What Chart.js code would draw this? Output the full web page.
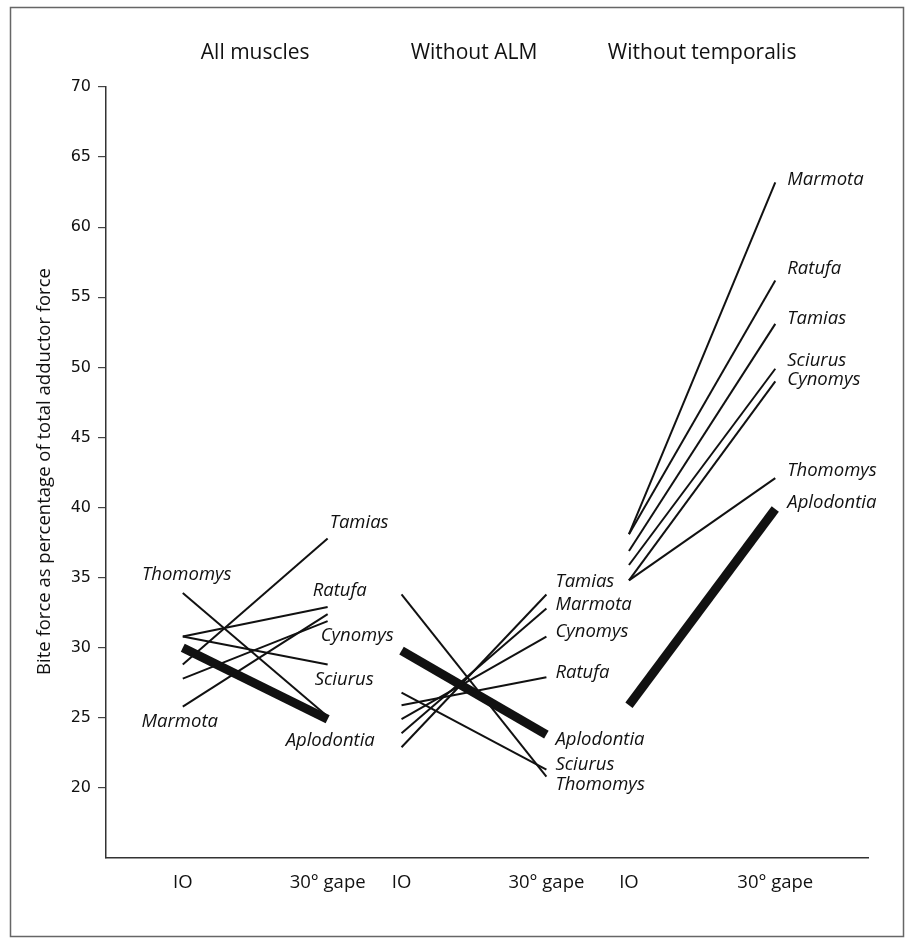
<!DOCTYPE html>
<html>
<head>
<meta charset="utf-8">
<script src="https://cdn.jsdelivr.net/npm/chart.js@4.4.1/dist/chart.umd.min.js"></script>
<style>
  html, body { margin: 0; padding: 0; background: #fff; }
  #wrap { width: 908px; height: 943px; position: relative; }
</style>
</head>
<body>
<div id="wrap"><canvas id="c" width="908" height="943"></canvas></div>
<script>
// ---- data ----
const species = ['Tamias', 'Thomomys', 'Ratufa', 'Sciurus', 'Cynomys', 'Marmota', 'Aplodontia'];
const groupTitles = ['All muscles', 'Without ALM', 'Without temporalis'];
const xTickLabels = ['IO', '30° gape', 'IO', '30° gape', 'IO', '30° gape'];
const allMusclesIO   = [28.8, 33.9, 30.8, 30.8, 27.8, 25.8, 30.0];
const allMusclesGape = [37.8, 25.1, 32.9, 28.8, 31.9, 32.4, 24.9];
const withoutAlmIO   = [22.9, 33.8, 25.9, 26.8, 24.9, 23.9, 29.8];
const withoutAlmGape = [33.8, 20.8, 27.9, 21.3, 30.8, 32.8, 23.8];
const withoutTempIO   = [36.9, 34.8, 38.1, 35.9, 34.8, 38.1, 25.9];
const withoutTempGape = [53.1, 42.1, 56.2, 49.9, 49.0, 63.2, 39.9];
const yTicks = [20, 25, 30, 35, 40, 45, 50, 55, 60, 65, 70];
const yAxisTitle = 'Bite force as percentage of total adductor force';

// ---- layout (positions along the x scale, styling) ----
const xPos = [0, 1, 1.51, 2.51, 3.08, 4.09];
const groupData = [
  [allMusclesIO, allMusclesGape],
  [withoutAlmIO, withoutAlmGape],
  [withoutTempIO, withoutTempGape]
];
// label layout: [anchorEnd (0 = IO, 1 = gape), dx, dy, align]
const labelLayout = [
  { Tamias: [1, 2, -16, 'left'], Thomomys: [0, 4, -18, 'center'], Ratufa: [1, -15, -16, 'left'],
    Sciurus: [1, -13, 15, 'left'], Cynomys: [1, -7, 15, 'left'], Marmota: [0, -3, 15, 'center'],
    Aplodontia: [1, -42, 22, 'left'] },
  { Tamias: [1, 9, -13, 'left'], Thomomys: [1, 9, 8, 'left'], Ratufa: [1, 9, -4, 'left'],
    Sciurus: [1, 9, -5, 'left'], Cynomys: [1, 9, -5, 'left'], Marmota: [1, 9, -4, 'left'],
    Aplodontia: [1, 9, 5, 'left'] },
  { Tamias: [1, 12, -5, 'left'], Thomomys: [1, 12, -7, 'left'], Ratufa: [1, 12, -12, 'left'],
    Sciurus: [1, 12, -8, 'left'], Cynomys: [1, 12, -2, 'left'], Marmota: [1, 12, -3, 'left'],
    Aplodontia: [1, 12, -6, 'left'] }
];

const datasets = [];
groupData.forEach((g, gi) => {
  species.forEach((sp, si) => {
    datasets.push({
      label: sp,
      data: [{ x: xPos[2 * gi], y: g[0][si] }, { x: xPos[2 * gi + 1], y: g[1][si] }],
      borderColor: '#111',
      borderWidth: sp === 'Aplodontia' ? 9 : 2,
      borderCapStyle: 'butt',
      pointRadius: 0,
      fill: false,
      tension: 0
    });
  });
});

const textFont = '"Open Sans", "Noto Sans", sans-serif';

const decor = {
  id: 'decor',
  beforeDraw(chart) {
    const ctx = chart.ctx;
    ctx.save();
    ctx.fillStyle = '#fff';
    ctx.fillRect(0, 0, chart.width, chart.height);
    ctx.strokeStyle = '#666';
    ctx.lineWidth = 1.5;
    ctx.strokeRect(10.5, 7.5, 893, 929);
    ctx.restore();
  },
  afterDatasetsDraw(chart) {
    const ctx = chart.ctx;
    const xs = chart.scales.x, ys = chart.scales.y;
    ctx.save();
    // group titles
    ctx.fillStyle = '#111';
    ctx.font = '21px ' + textFont;
    ctx.textAlign = 'center';
    ctx.textBaseline = 'middle';
    const titleCenters = [(xPos[0] + xPos[1]) / 2, (xPos[2] + xPos[3]) / 2, (xPos[4] + xPos[5]) / 2];
    groupTitles.forEach((t, i) => {
      ctx.fillText(t, xs.getPixelForValue(titleCenters[i]), 53);
    });
    // species labels
    ctx.font = 'italic 18.5px ' + textFont;
    groupData.forEach((g, gi) => {
      species.forEach((sp, si) => {
        const L = labelLayout[gi][sp];
        const end = L[0];
        const px = xs.getPixelForValue(xPos[2 * gi + end]);
        const py = ys.getPixelForValue(g[end][si]);
        ctx.textAlign = L[3];
        ctx.fillText(sp, px + L[1], py + L[2]);
      });
    });
    // y axis title
    ctx.font = '18.5px ' + textFont;
    ctx.textAlign = 'center';
    ctx.translate(45, (ys.top + ys.bottom) / 2 - 1);
    ctx.rotate(-Math.PI / 2);
    ctx.fillText(yAxisTitle, 0, 0);
    ctx.restore();
  }
};

new Chart(document.getElementById('c'), {
  type: 'line',
  data: { datasets },
  plugins: [decor],
  options: {
    responsive: false,
    animation: false,
    layout: { padding: { top: 87, right: 40, bottom: 0, left: 0 } },
    plugins: { legend: { display: false }, tooltip: { enabled: false }, title: { display: false } },
    scales: {
      x: {
        type: 'linear',
        min: -0.53,
        max: 4.73,
        afterBuildTicks(scale) { scale.ticks = xPos.map(v => ({ value: v })); },
        afterFit(scale) { scale.height = 85; },
        grid: { drawOnChartArea: false, drawTicks: false },
        border: { display: true, color: '#333', width: 1.5 },
        ticks: {
          autoSkip: false,
          maxRotation: 0,
          padding: 14,
          color: '#111',
          font: { family: textFont, size: 18.5 },
          callback(value, index) { return xTickLabels[index]; }
        }
      },
      y: {
        type: 'linear',
        min: 15,
        max: 70,
        afterBuildTicks(scale) { scale.ticks = yTicks.map(v => ({ value: v })); },
        afterFit(scale) { scale.width = 106; },
        grid: { drawOnChartArea: false, drawTicks: true, tickLength: 8, color: '#444', lineWidth: 1.2 },
        border: { display: true, color: '#333', width: 1.5 },
        ticks: {
          padding: 7,
          color: '#111',
          font: { family: '"DejaVu Sans", sans-serif', size: 16 },
          callback(value) { return String(value); }
        }
      }
    }
  }
});
</script>
</body>
</html>
